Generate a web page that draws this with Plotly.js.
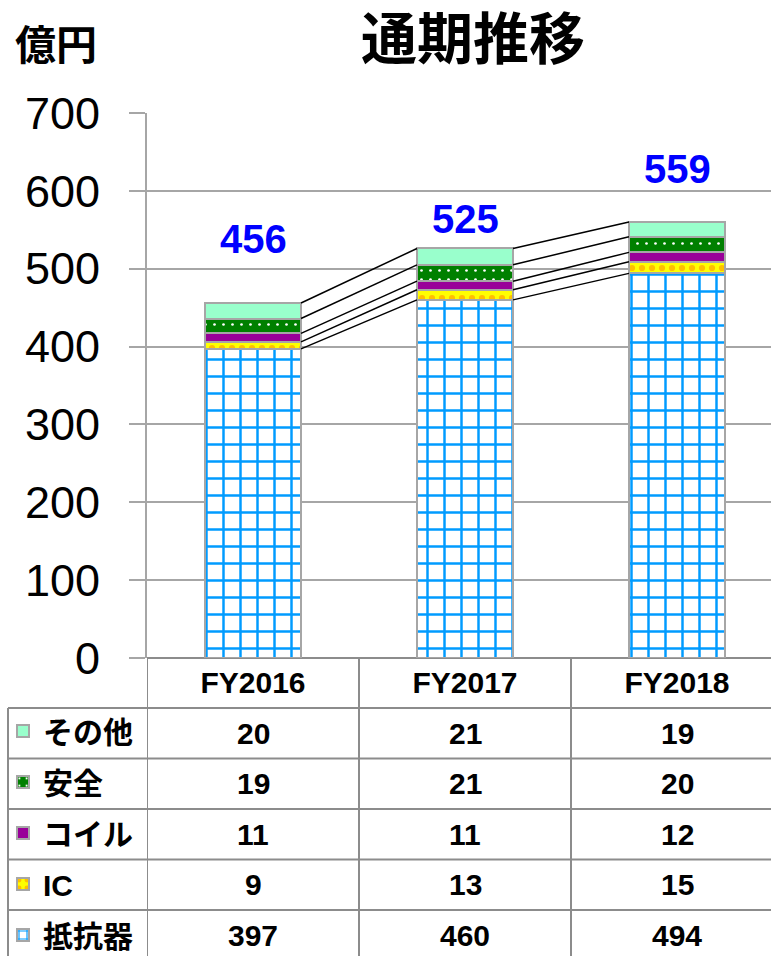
<!DOCTYPE html>
<html><head><meta charset="utf-8">
<script src="https://cdn.plot.ly/plotly-3.0.1.min.js"></script>
<style>html,body{margin:0;padding:0;background:#fff}</style>
</head><body><div id="chart" style="width:771px;height:956px"></div>
<script>
// ---- data ----
const categories = ['FY2016', 'FY2017', 'FY2018'];
const resistor = [397, 460, 494];   // 抵抗器
const ic = [9, 13, 15];             // IC
const coil = [11, 11, 12];          // コイル
const safety = [19, 21, 20];        // 安全
const other = [20, 21, 19];         // その他
const totals = [456, 525, 559];
const yTickVals = [0, 100, 200, 300, 400, 500, 600, 700];
const titleText = '通期推移';
const unitText = '億円';

// ---- styles ----
const LAT = 'Arial, "Liberation Sans", sans-serif';
const JP = '"Noto Sans CJK JP", sans-serif';
const MIX = 'Arial, "Liberation Sans", "Noto Sans CJK JP", sans-serif';
const W = 771, H = 956;
const M = {l: 147, r: 0, t: 113, b: 298};
const plotH = H - M.t - M.b;
const plotW = W - M.l - M.r;
const pxToPaperY = py => (H - M.b - py) / plotH;
const pxToPaperX = px => (px - M.l) / plotW;
const barW = 0.453, hw = barW / 2;
const edge = {color: '#A6A6A6', width: 2};
const xs = categories.map((c, i) => i);

const series = [
  {name: '抵抗器', vals: resistor, color: '#FFFFFF', pattern: {shape: '+', fgcolor: '#009BFF', bgcolor: '#FFFFFF', size: 17, solidity: 0.27}},
  {name: 'IC', vals: ic, color: '#FFFF00', pattern: {shape: '.', fgcolor: '#FFC000', bgcolor: '#FFFF00', size: 10, solidity: 0.3}},
  {name: 'コイル', vals: coil, color: '#990099', pattern: null},
  {name: '安全', vals: safety, color: '#008000', pattern: {shape: '.', fgcolor: '#FFFFFF', bgcolor: '#008000', size: 9, solidity: 0.07}},
  {name: 'その他', vals: other, color: '#99FFCC', pattern: null}
];

const traces = series.map((s, k) => {
  const m = {color: s.color, line: edge};
  if (s.pattern) m.pattern = s.pattern;
  return {type: 'bar', x: xs, y: s.vals, name: s.name, width: barW, marker: m,
          legendgroup: 'g' + k, legendrank: 100 - k * 10, hoverinfo: 'name+y'};
});

// series connector lines
let run = [0, 0, 0];
series.forEach(s => {
  run = run.map((r, i) => r + s.vals[i]);
  const cx = [], cy = [];
  for (let i = 0; i < categories.length - 1; i++) {
    if (i > 0) { cx.push(null); cy.push(null); }
    cx.push(i + hw, i + 1 - hw);
    cy.push(run[i], run[i + 1]);
  }
  traces.push({type: 'scatter', mode: 'lines', x: cx, y: cy, showlegend: false,
               hoverinfo: 'skip', line: {color: '#000000', width: 1.5}});
});

// ---- table & annotations ----
const rowTop = 708, rowH = 50.5;
const rowOrder = [4, 3, 2, 1, 0];   // その他, 安全, コイル, IC, 抵抗器
const shapes = [];
const tl = {color: '#8C8C8C', width: 2};
for (let r = 0; r < rowOrder.length; r++) {
  const y = pxToPaperY(rowTop + r * rowH);
  shapes.push({type: 'line', xref: 'paper', yref: 'paper', x0: pxToPaperX(8), x1: 1, y0: y, y1: y, line: tl});
}
shapes.push({type: 'line', xref: 'paper', yref: 'paper', x0: pxToPaperX(8), x1: pxToPaperX(8),
             y0: pxToPaperY(rowTop), y1: pxToPaperY(H + 5), line: tl});
for (let i = 0; i < categories.length; i++) {
  shapes.push({type: 'line', xref: 'x', yref: 'paper', x0: i - 0.5, x1: i - 0.5,
               y0: 0, y1: pxToPaperY(H + 5), line: tl});
}

const annotations = [];
rowOrder.forEach((k, r) => {
  const yc = pxToPaperY(rowTop + r * rowH + rowH / 2);
  series[k].vals.forEach((v, i) => {
    annotations.push({xref: 'x', yref: 'paper', x: i, y: yc, text: String(v), showarrow: false,
      xanchor: 'center', yanchor: 'middle', font: {family: LAT, size: 30, color: '#000', weight: 'bold'}});
  });
});
const labelShift = [64, 29, 53];
totals.forEach((t, i) => {
  annotations.push({xref: 'x', yref: 'y', x: i, y: run[i], text: String(t), showarrow: false,
    xanchor: 'center', yanchor: 'middle', yshift: labelShift[i],
    font: {family: LAT, size: 40, color: '#0000FF', weight: 'bold'}});
});
annotations.push({xref: 'paper', yref: 'paper', x: pxToPaperX(56), y: pxToPaperY(42), text: unitText,
  showarrow: false, xanchor: 'center', yanchor: 'middle', font: {family: JP, size: 41, color: '#000', weight: 'bold'}});

const layout = {
  width: W, height: H,
  margin: Object.assign({autoexpand: false}, M),
  paper_bgcolor: '#FFFFFF', plot_bgcolor: '#FFFFFF',
  barmode: 'stack',
  showlegend: true,
  title: {text: titleText, x: 473 / W, xanchor: 'center', y: 1 - 39 / H, yanchor: 'middle',
          xref: 'container', yref: 'container',
          font: {family: JP, size: 56, color: '#000', weight: 'bold'}},
  xaxis: {type: 'linear', range: [-0.5, -0.5 + plotW / 212], tickvals: xs, ticktext: categories,
          showgrid: false, zeroline: false, showline: false, ticks: '', fixedrange: true,
          ticklabelstandoff: 4,
          tickfont: {family: LAT, size: 30, color: '#000', weight: 'bold'}},
  yaxis: {range: [0, 700], tickvals: yTickVals, showgrid: true, gridcolor: '#A6A6A6', gridwidth: 2,
          zeroline: true, zerolinecolor: '#8C8C8C', zerolinewidth: 2,
          showline: true, linecolor: '#A6A6A6', linewidth: 2,
          ticks: 'outside', ticklen: 16, tickwidth: 2, tickcolor: '#A6A6A6',
          ticklabelstandoff: 20, fixedrange: true,
          tickfont: {family: LAT, size: 45, color: '#000'}},
  legend: {x: pxToPaperX(3), xanchor: 'left', y: pxToPaperY(rowTop - 3), yanchor: 'top',
           traceorder: 'grouped', tracegroupgap: 9, bgcolor: 'rgba(0,0,0,0)', borderwidth: 0,
           font: {family: MIX, size: 30, color: '#000', weight: 'bold'}},
  shapes: shapes,
  annotations: annotations
};

Plotly.newPlot('chart', traces, layout, {displayModeBar: false, staticPlot: true});
</script>
</body></html>
